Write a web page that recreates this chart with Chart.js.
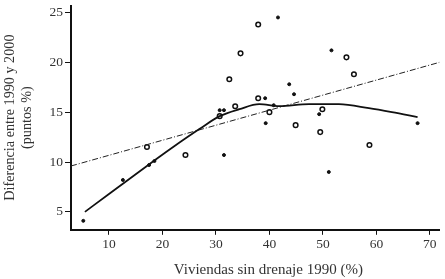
<!DOCTYPE html>
<html>
<head>
<meta charset="utf-8">
<script src="https://cdn.jsdelivr.net/npm/chart.js@4"></script>
<style>
  html, body { margin: 0; padding: 0; background: #fff; }
  #wrap { width: 445px; height: 279px; }
</style>
</head>
<body>
<div id="wrap"><canvas id="dispersion"></canvas></div>
<script>
// puntos con circulo abierto
const abiertosX = [17.1, 24.3, 30.7, 33.6, 32.5, 34.6, 37.9, 37.9, 40.0, 44.9, 49.9, 49.5, 54.4, 55.8, 58.7];
const abiertosY = [11.5, 10.7, 14.6, 15.6, 18.3, 20.9, 23.8, 16.4, 15.0, 13.7, 15.3, 13.0, 20.5, 18.8, 11.7];
// puntos rellenos
const rellenosX = [5.2, 12.6, 17.5, 18.5, 31.5, 30.7, 31.5, 39.2, 41.6, 40.8, 39.3, 43.7, 44.6, 49.3, 51.6, 51.1, 67.7];
const rellenosY = [4.1, 8.2, 9.7, 10.1, 10.7, 15.2, 15.2, 16.4, 24.5, 15.7, 13.9, 17.8, 16.8, 14.8, 21.2, 9.0, 13.9];
// recta de tendencia
const rectaX = [2.9, 71.8];
const rectaY = [9.6, 20.0];
// curva suavizada
const curvaX = [5.5, 10, 17.6, 22, 26.9, 30.7, 34.4, 38.1, 41.8, 47.4, 53, 58.6, 62.9, 67.7];
const curvaY = [5.0, 6.8, 9.8, 11.5, 13.3, 14.6, 15.3, 15.8, 15.6, 15.8, 15.8, 15.4, 15.0, 14.5];
// marcas de los ejes
const xTicks = [10, 20, 30, 40, 50, 60, 70];
const yTicks = [5, 10, 15, 20, 25];

const pares = (xs, ys) => xs.map((x, i) => ({ x: x, y: ys[i] }));
const fuente = "'Liberation Serif', 'DejaVu Serif', serif";

new Chart(document.getElementById("dispersion"), {
    type: 'scatter',
    data: {
        datasets: [
            {
                type: 'line',
                data: pares(curvaX, curvaY),
                borderColor: '#111',
                borderWidth: 1.8,
                pointRadius: 0,
                cubicInterpolationMode: 'monotone',
                fill: false
            },
            {
                type: 'line',
                data: pares(rectaX, rectaY),
                borderColor: '#222',
                borderWidth: 1,
                borderDash: [6, 2, 1, 2],
                pointRadius: 0,
                fill: false
            },
            {
                data: pares(abiertosX, abiertosY),
                backgroundColor: '#fff',
                borderColor: '#111',
                borderWidth: 1.5,
                pointRadius: 2.3
            },
            {
                data: pares(rellenosX, rellenosY),
                backgroundColor: '#111',
                borderColor: '#111',
                borderWidth: 1,
                pointRadius: 1.5
            }
        ]
    },
    options: {
        responsive: true,
        maintainAspectRatio: false,
        animation: false,
        layout: { padding: { top: 4, right: 4, left: 1, bottom: 0 } },
        plugins: { legend: { display: false }, tooltip: { enabled: false } },
        scales: {
            x: {
                type: 'linear',
                min: 2.9,
                max: 71.8,
                afterBuildTicks: (s) => { s.ticks = xTicks.map(v => ({ value: v })); },
                grid: { display: true, drawOnChartArea: false, tickLength: 5, color: '#111', lineWidth: 1 },
                border: { display: true, color: '#111', width: 2 },
                ticks: { color: '#333', font: { family: fuente, size: 13.5 }, padding: 2, maxRotation: 0 },
                title: {
                    display: true,
                    // espacios iniciales para correr el titulo a la derecha
                    text: '       Viviendas sin drenaje 1990 (%)',
                    color: '#333',
                    font: { family: fuente, size: 15 },
                    padding: { top: 6, bottom: 0 }
                }
            },
            y: {
                type: 'linear',
                min: 3.2,
                max: 25.7,
                afterBuildTicks: (s) => { s.ticks = yTicks.map(v => ({ value: v })); },
                afterFit: (s) => { s.paddingTop = 0; s.paddingBottom = 0; },
                grid: { display: true, drawOnChartArea: false, tickLength: 6, color: '#111', lineWidth: 1 },
                border: { display: true, color: '#111', width: 2 },
                ticks: { color: '#333', font: { family: fuente, size: 13.5 }, padding: 2 },
                title: {
                    display: true,
                    text: ['Diferencia entre 1990 y 2000', '(puntos %)'],
                    color: '#333',
                    font: { family: fuente, size: 14.2, lineHeight: 1.25 },
                    padding: { top: 0, bottom: 11 }
                }
            }
        }
    }
});
</script>
</body>
</html>
